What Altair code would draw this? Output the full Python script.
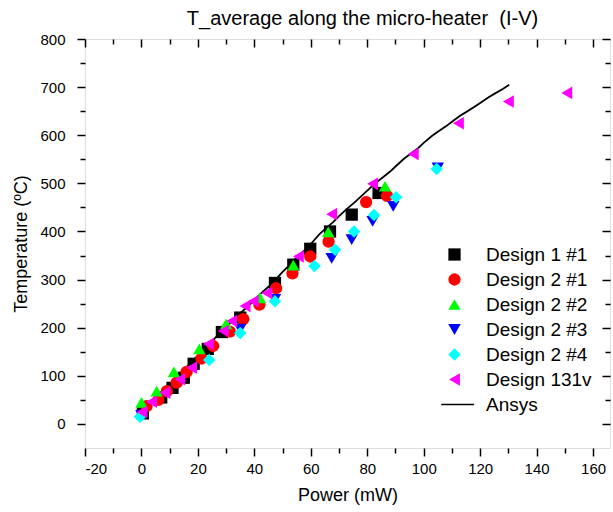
import altair as alt
import pandas as pd

# ---------------- data ----------------
series_names = ["Design 1 #1", "Design 2 #1", "Design 2 #2", "Design 2 #3", "Design 2 #4", "Design 131v"]

d11_p = [0.5, 7, 11, 15, 18.5, 23.5, 28.5, 35, 47.3, 53.8, 59.8, 66.8, 74.5, 84]
d11_t = [22, 55, 75, 96, 125, 156, 191, 221, 293, 331, 364, 400, 435, 480]

d21_p = [1.8, 6, 9, 12.5, 16, 21.3, 25.4, 31.3, 36.1, 41.8, 47.7, 53.5, 59.8, 66.3, 79.6, 87]
d21_t = [37, 50, 68, 86, 108, 136, 162, 192, 218, 248, 282, 313, 348, 379, 461, 474]

d22_p = [0, 5.4, 11.5, 20.5, 30, 42, 53.8, 66.2, 86.3]
d22_t = [45, 68, 108, 156, 208, 262, 330, 399, 494]

d23_p = [0, 35, 47.3, 67.4, 74.5, 81.9, 89.2, 105]
d23_t = [18, 197, 259, 344, 383, 421, 452, 532]

d24_p = [-0.5, 24, 35, 47.3, 61.3, 68.6, 75.3, 82.4, 90.2, 104.6]
d24_t = [15, 133, 189, 255, 328, 362, 400, 434, 471, 530]

d131_p = [0.2, 3.6, 8.3, 13.6, 17.8, 23.7, 29, 32, 36.7, 39.6, 44.4, 55.6, 67.4, 81.9, 96.3, 112.3, 130, 150.7]
d131_t = [25, 46, 65, 93, 117, 166, 193, 214, 245, 255, 272, 348, 436, 499, 561, 625, 670, 688]

ansys_p = [0, 2, 5, 8, 10, 13, 15, 18, 20, 23, 25, 28, 30, 33, 35, 38, 40, 43, 45, 48, 50, 53, 55, 58, 60,
           63, 65, 68, 70, 73, 75, 78, 80, 83, 85, 88, 90, 93, 95, 98, 100, 103, 105, 108, 110, 113, 115,
           118, 120, 123, 125, 128, 130.3]
ansys_t = [21, 32, 52, 71, 82, 101, 112, 131, 142, 159, 172, 190, 201, 220, 230, 246, 258, 275, 285, 303,
           316, 333, 346, 362, 374, 394, 405, 420, 432, 448, 458, 474, 485, 501, 510, 524, 535, 551, 560,
           573, 584, 599, 607, 619, 628, 641, 648, 659, 667, 679, 686, 696, 705]

x_major = [-20, 0, 20, 40, 60, 80, 100, 120, 140, 160]
x_minor = [-10, 10, 30, 50, 70, 90, 110, 130, 150]
y_major = [0, 100, 200, 300, 400, 500, 600, 700, 800]
y_minor = [50, 150, 250, 350, 450, 550, 650, 750]

# ---------------- build tables ----------------
pts = []
for name, ps, ts in zip(series_names,
                        [d11_p, d21_p, d22_p, d23_p, d24_p, d131_p],
                        [d11_t, d21_t, d22_t, d23_t, d24_t, d131_t]):
    for p, t in zip(ps, ts):
        pts.append({"P": p, "T": t, "series": name})
pts_df = pd.DataFrame(pts)
pts_df["order"] = pts_df["series"].map({n: i for i, n in enumerate(series_names)})
ansys_df = pd.DataFrame({"P": ansys_p, "T": ansys_t})

FONT = "Liberation Sans"
legend_domain = series_names + ["Ansys"]
colors = ["#000000", "#ff0000", "#00ff00", "#0000ff", "#00ffff", "#ff00ff", "#000000"]
shapes = ["square", "circle", "triangle-up", "triangle-down", "diamond", "triangle-left",
          "M-2.1,-0.11L3.1,-0.11L3.1,0.11L-2.1,0.11Z"]
sizes = [150, 160, 190, 190, 270, 200, 200]

xs = alt.Scale(domain=[-20, 166], nice=False, zero=False)
ys = alt.Scale(domain=[-50, 800], nice=False, zero=False)

def ax(orient, values, size, labels=False, offset=0, title=None, **kw):
    args = dict(orient=orient, values=values, tickSize=size, domain=False, grid=False,
                labels=labels, tickColor="black", tickWidth=1.5, offset=offset, title=title)
    args.update(kw)
    return alt.Axis(**args)

# main scatter, with bottom/left major axes
points = alt.Chart(pts_df).mark_point(filled=True, opacity=1, strokeWidth=0).encode(
    x=alt.X("P:Q", scale=xs,
            axis=ax("bottom", x_major, 8, labels=True, title="Power (mW)",
                    labelFont=FONT, labelFontSize=15, labelColor="black", labelPadding=5,
                    labelExpr="toString(datum.value)",
                    titleFont=FONT, titleFontSize=18, titleFontWeight="normal", titleColor="black",
                    titlePadding=10)),
    y=alt.Y("T:Q", scale=ys,
            axis=ax("left", y_major, 8, labels=True, title="Temperature (ºC)",
                    labelFont=FONT, labelFontSize=15, labelColor="black", labelPadding=12,
                    titleFont=FONT, titleFontSize=18, titleFontWeight="normal", titleColor="black",
                    titlePadding=9)),
    color=alt.Color("series:N", scale=alt.Scale(domain=legend_domain, range=colors),
                    legend=alt.Legend(title=None, orient="none", legendX=360, legendY=206,
                                      labelFont=FONT, labelFontSize=19, labelColor="black",
                                      labelOffset=22, rowPadding=5, padding=0,
                                      symbolOpacity=1, symbolStrokeWidth=0)),
    shape=alt.Shape("series:N", scale=alt.Scale(domain=legend_domain, range=shapes)),
    size=alt.Size("series:N", scale=alt.Scale(domain=legend_domain, range=sizes)),
    order=alt.Order("order:Q"),
)

# Ansys line, with bottom/left minor axes
line = alt.Chart(ansys_df).mark_line(color="black", strokeWidth=1.8).encode(
    x=alt.X("P:Q", scale=xs, axis=ax("bottom", x_minor, 5)),
    y=alt.Y("T:Q", scale=ys, axis=ax("left", y_minor, 5)),
)

# invisible layers carrying the inward ticks on top and right
top_right_major = alt.Chart(ansys_df).mark_point(opacity=0).encode(
    x=alt.X("P:Q", scale=xs, axis=ax("top", x_major, 8, offset=-8)),
    y=alt.Y("T:Q", scale=ys, axis=ax("right", y_major, 8, offset=-8)),
)
top_right_minor = alt.Chart(ansys_df).mark_point(opacity=0).encode(
    x=alt.X("P:Q", scale=xs, axis=ax("top", x_minor, 5, offset=-5)),
    y=alt.Y("T:Q", scale=ys, axis=ax("right", y_minor, 5, offset=-5)),
)

chart = alt.layer(line, top_right_major, top_right_minor, points).resolve_axis(
    x="independent", y="independent"
).properties(
    width=525, height=409,
    autosize=alt.AutoSizeParams(type="none"),
    padding={"left": 85, "top": 39, "right": 3, "bottom": 64},
    title=alt.TitleParams("T_average along the micro-heater \u00a0(I-V)", font=FONT, fontSize=20,
                          fontWeight="normal", color="black", anchor="middle", dx=15, dy=21,
                          baseline="alphabetic", offset=8),
).configure_view(stroke="black", strokeWidth=1.5).configure(background="white")

chart.save("out.html", embed_options={"renderer": "svg", "actions": False})
